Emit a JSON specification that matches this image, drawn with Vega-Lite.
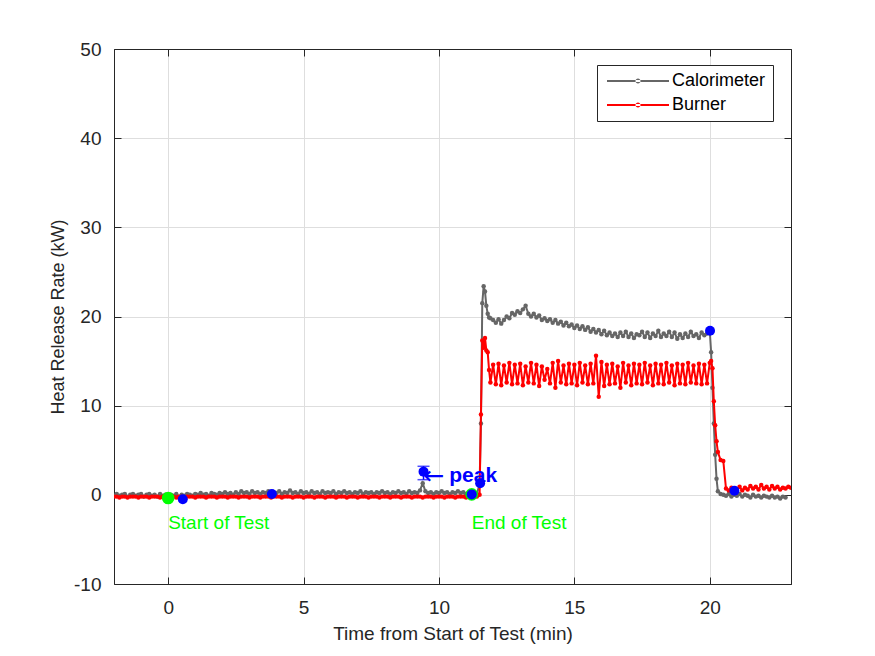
{
  "$schema": "https://vega.github.io/schema/vega-lite/v6.json",
  "width": 677,
  "height": 535,
  "autosize": {"type": "none"},
  "padding": {"left": 114, "top": 49, "right": 84, "bottom": 72},
  "background": "#FFFFFF",
  "config": {
    "font": "Liberation Sans",
    "view": {"stroke": "#262626", "strokeWidth": 1},
    "axis": {"labelFont": "Liberation Sans", "titleFont": "Liberation Sans", "labelColor": "#262626", "titleColor": "#262626", "domainColor": "#262626", "tickColor": "#262626", "gridColor": "#DEDEDE", "gridWidth": 1, "titleFontWeight": "normal"}
  },
  "datasets": {
    "hrr": [
      {"t":-2.0,"c":-0.1,"b":-0.2},{"t":-1.9,"c":0.1,"b":-0.2},{"t":-1.8,"c":-0.1,"b":-0.3},{"t":-1.7,"c":0.0,"b":-0.2},{"t":-1.6,"c":0.1,"b":-0.2},
      {"t":-1.5,"c":-0.2,"b":-0.3},{"t":-1.4,"c":0.0,"b":-0.2},{"t":-1.3,"c":0.1,"b":-0.2},{"t":-1.2,"c":-0.1,"b":-0.2},{"t":-1.1,"c":0.0,"b":-0.3},
      {"t":-1.0,"c":0.1,"b":-0.2},{"t":-0.9,"c":-0.2,"b":-0.2},{"t":-0.8,"c":0.0,"b":-0.2},{"t":-0.7,"c":0.1,"b":-0.3},{"t":-0.6,"c":-0.1,"b":-0.2},
      {"t":-0.5,"c":0.0,"b":-0.2},{"t":-0.4,"c":-0.2,"b":-0.2},{"t":-0.3,"c":0.1,"b":-0.3},{"t":-0.2,"c":-0.1,"b":-0.2},{"t":-0.1,"c":0.0,"b":-0.2},
      {"t":0.0,"c":-0.2,"b":-0.3},{"t":0.1,"c":0.0,"b":-0.2},{"t":0.2,"c":-0.1,"b":-0.2},{"t":0.3,"c":0.1,"b":-0.3},{"t":0.4,"c":-0.2,"b":-0.2},
      {"t":0.5,"c":0.0,"b":-0.2},{"t":0.6,"c":-0.1,"b":-0.3},{"t":0.7,"c":0.1,"b":-0.2},{"t":0.8,"c":0.0,"b":-0.2},{"t":0.9,"c":-0.1,"b":-0.2},
      {"t":1.0,"c":0.1,"b":-0.3},{"t":1.1,"c":0.0,"b":-0.2},{"t":1.2,"c":0.2,"b":-0.2},{"t":1.3,"c":0.0,"b":-0.2},{"t":1.4,"c":0.1,"b":-0.3},
      {"t":1.5,"c":-0.1,"b":-0.2},{"t":1.6,"c":0.2,"b":-0.2},{"t":1.7,"c":0.1,"b":-0.2},{"t":1.8,"c":0.0,"b":-0.3},{"t":1.9,"c":0.2,"b":-0.2},
      {"t":2.0,"c":0.1,"b":-0.2},{"t":2.1,"c":0.3,"b":-0.2},{"t":2.2,"c":0.1,"b":-0.3},{"t":2.3,"c":0.2,"b":-0.2},{"t":2.4,"c":0.0,"b":-0.2},
      {"t":2.5,"c":0.3,"b":-0.2},{"t":2.6,"c":0.1,"b":-0.3},{"t":2.7,"c":0.4,"b":-0.2},{"t":2.8,"c":0.2,"b":-0.2},{"t":2.9,"c":0.3,"b":-0.2},
      {"t":3.0,"c":0.1,"b":-0.3},{"t":3.1,"c":0.4,"b":-0.2},{"t":3.2,"c":0.2,"b":-0.2},{"t":3.3,"c":0.3,"b":-0.2},{"t":3.4,"c":0.1,"b":-0.3},
      {"t":3.5,"c":0.3,"b":-0.2},{"t":3.6,"c":0.2,"b":-0.2},{"t":3.7,"c":0.4,"b":-0.2},{"t":3.8,"c":0.1,"b":-0.3},{"t":3.9,"c":0.3,"b":-0.2},
      {"t":4.0,"c":0.2,"b":-0.2},{"t":4.1,"c":0.4,"b":-0.2},{"t":4.2,"c":0.1,"b":-0.3},{"t":4.3,"c":0.3,"b":-0.2},{"t":4.4,"c":0.2,"b":-0.2},
      {"t":4.5,"c":0.5,"b":-0.2},{"t":4.6,"c":0.2,"b":-0.3},{"t":4.7,"c":0.3,"b":-0.2},{"t":4.8,"c":0.1,"b":-0.2},{"t":4.9,"c":0.4,"b":-0.2},
      {"t":5.0,"c":0.2,"b":-0.3},{"t":5.1,"c":0.3,"b":-0.2},{"t":5.2,"c":0.1,"b":-0.2},{"t":5.3,"c":0.4,"b":-0.2},{"t":5.4,"c":0.2,"b":-0.3},
      {"t":5.5,"c":0.3,"b":-0.2},{"t":5.6,"c":0.1,"b":-0.2},{"t":5.7,"c":0.4,"b":-0.2},{"t":5.8,"c":0.2,"b":-0.3},{"t":5.9,"c":0.3,"b":-0.2},
      {"t":6.0,"c":0.2,"b":-0.2},{"t":6.1,"c":0.4,"b":-0.2},{"t":6.2,"c":0.1,"b":-0.3},{"t":6.3,"c":0.3,"b":-0.2},{"t":6.4,"c":0.2,"b":-0.2},
      {"t":6.5,"c":0.4,"b":-0.2},{"t":6.6,"c":0.2,"b":-0.3},{"t":6.7,"c":0.3,"b":-0.2},{"t":6.8,"c":0.1,"b":-0.2},{"t":6.9,"c":0.3,"b":-0.2},
      {"t":7.0,"c":0.2,"b":-0.3},{"t":7.1,"c":0.4,"b":-0.2},{"t":7.2,"c":0.1,"b":-0.2},{"t":7.3,"c":0.3,"b":-0.2},{"t":7.4,"c":0.2,"b":-0.3},
      {"t":7.5,"c":0.3,"b":-0.2},{"t":7.6,"c":0.1,"b":-0.2},{"t":7.7,"c":0.3,"b":-0.2},{"t":7.8,"c":0.2,"b":-0.3},{"t":7.9,"c":0.4,"b":-0.2},
      {"t":8.0,"c":0.2,"b":-0.2},{"t":8.1,"c":0.3,"b":-0.2},{"t":8.2,"c":0.1,"b":-0.3},{"t":8.3,"c":0.3,"b":-0.2},{"t":8.4,"c":0.2,"b":-0.2},
      {"t":8.5,"c":0.4,"b":-0.2},{"t":8.6,"c":0.2,"b":-0.3},{"t":8.7,"c":0.3,"b":-0.2},{"t":8.8,"c":0.1,"b":-0.2},{"t":8.9,"c":0.4,"b":-0.2},
      {"t":9.0,"c":0.2,"b":-0.3},{"t":9.1,"c":0.3,"b":-0.2},{"t":9.2,"c":0.2,"b":-0.2},{"t":9.3,"c":0.5,"b":-0.2},{"t":9.4,"c":1.3,"b":-0.3},
      {"t":9.5,"c":0.4,"b":-0.2},{"t":9.6,"c":0.2,"b":-0.2},{"t":9.7,"c":0.3,"b":-0.2},{"t":9.8,"c":0.1,"b":-0.3},{"t":9.9,"c":0.3,"b":-0.2},
      {"t":10.0,"c":0.2,"b":-0.2},{"t":10.1,"c":0.4,"b":-0.2},{"t":10.2,"c":0.2,"b":-0.3},{"t":10.3,"c":0.3,"b":-0.2},{"t":10.4,"c":0.1,"b":-0.2},
      {"t":10.5,"c":0.3,"b":-0.2},{"t":10.6,"c":0.2,"b":-0.3},{"t":10.7,"c":0.4,"b":-0.2},{"t":10.8,"c":0.2,"b":-0.2},{"t":10.9,"c":0.3,"b":-0.2},
      {"t":11.0,"c":0.1,"b":-0.3},{"t":11.1,"c":0.3,"b":-0.2},{"t":11.2,"c":0.0,"b":-0.2},{"t":11.3,"c":0.2,"b":-0.2},{"t":11.4,"c":0.1,"b":-0.2},
      {"t":11.5,"c":1.2,"b":0.0},{"t":11.55,"c":8.0,"b":9.0},{"t":11.6,"c":21.5,"b":17.3},{"t":11.65,"c":23.4,"b":16.5},{"t":11.7,"c":22.8,"b":17.6},
      {"t":11.75,"c":21.2,"b":16.2},{"t":11.8,"c":20.3,"b":16.0},{"t":11.85,"c":19.9,"b":14.0},{"t":11.9,"c":19.8,"b":12.6},
      {"t":12.0,"c":19.6,"b":14.6},{"t":12.1,"c":19.3,"b":12.4},{"t":12.2,"c":19.7,"b":14.7},{"t":12.3,"c":19.2,"b":12.3},{"t":12.4,"c":19.6,"b":14.5},
      {"t":12.5,"c":20.0,"b":12.6},{"t":12.6,"c":19.8,"b":14.8},{"t":12.7,"c":20.4,"b":12.4},{"t":12.8,"c":20.2,"b":14.6},{"t":12.9,"c":20.6,"b":12.5},
      {"t":13.0,"c":20.4,"b":14.7},{"t":13.1,"c":20.8,"b":12.3},{"t":13.2,"c":21.2,"b":14.4},{"t":13.3,"c":20.3,"b":12.6},{"t":13.4,"c":20.0,"b":14.8},
      {"t":13.5,"c":20.3,"b":12.5},{"t":13.6,"c":19.9,"b":14.6},{"t":13.7,"c":20.1,"b":12.2},{"t":13.8,"c":19.6,"b":14.4},{"t":13.9,"c":19.8,"b":12.9},
      {"t":14.0,"c":19.5,"b":14.1},{"t":14.1,"c":19.7,"b":12.5},{"t":14.2,"c":19.3,"b":14.8},{"t":14.3,"c":19.6,"b":12.0},{"t":14.4,"c":19.2,"b":15.0},
      {"t":14.5,"c":19.4,"b":12.6},{"t":14.6,"c":19.0,"b":14.5},{"t":14.7,"c":19.3,"b":12.4},{"t":14.8,"c":18.9,"b":14.7},{"t":14.9,"c":19.1,"b":12.5},
      {"t":15.0,"c":18.7,"b":14.6},{"t":15.1,"c":19.0,"b":12.3},{"t":15.2,"c":18.6,"b":14.8},{"t":15.3,"c":18.9,"b":12.6},{"t":15.4,"c":18.5,"b":14.5},
      {"t":15.5,"c":18.8,"b":12.4},{"t":15.6,"c":18.3,"b":14.7},{"t":15.7,"c":18.6,"b":12.5},{"t":15.8,"c":18.2,"b":15.6},{"t":15.9,"c":18.5,"b":11.0},
      {"t":16.0,"c":18.0,"b":14.9},{"t":16.1,"c":18.4,"b":12.2},{"t":16.2,"c":17.9,"b":14.6},{"t":16.3,"c":18.2,"b":12.4},{"t":16.4,"c":17.8,"b":14.7},
      {"t":16.5,"c":18.1,"b":12.5},{"t":16.6,"c":17.7,"b":14.4},{"t":16.7,"c":18.2,"b":12.0},{"t":16.8,"c":17.8,"b":14.8},{"t":16.9,"c":18.3,"b":12.6},
      {"t":17.0,"c":17.7,"b":14.5},{"t":17.1,"c":18.1,"b":12.3},{"t":17.2,"c":17.6,"b":14.7},{"t":17.3,"c":18.0,"b":12.5},{"t":17.4,"c":17.9,"b":14.6},
      {"t":17.5,"c":18.3,"b":12.4},{"t":17.6,"c":17.7,"b":14.8},{"t":17.7,"c":18.2,"b":12.6},{"t":17.8,"c":17.6,"b":14.5},{"t":17.9,"c":18.1,"b":12.3},
      {"t":18.0,"c":17.8,"b":14.7},{"t":18.1,"c":18.4,"b":12.5},{"t":18.2,"c":17.7,"b":14.6},{"t":18.3,"c":18.1,"b":12.4},{"t":18.4,"c":17.8,"b":14.8},
      {"t":18.5,"c":18.3,"b":12.6},{"t":18.6,"c":17.7,"b":14.5},{"t":18.7,"c":18.2,"b":12.3},{"t":18.8,"c":17.5,"b":14.7},{"t":18.9,"c":18.0,"b":12.5},
      {"t":19.0,"c":17.6,"b":14.6},{"t":19.1,"c":18.1,"b":12.4},{"t":19.2,"c":17.7,"b":14.8},{"t":19.3,"c":18.3,"b":12.6},{"t":19.4,"c":17.8,"b":14.5},
      {"t":19.5,"c":18.0,"b":12.5},{"t":19.6,"c":17.6,"b":14.7},{"t":19.7,"c":18.2,"b":12.4},{"t":19.8,"c":17.9,"b":14.6},{"t":19.9,"c":18.1,"b":12.5},
      {"t":20.0,"c":18.4,"b":14.8},{"t":20.05,"c":16.0,"b":15.0},{"t":20.1,"c":12.0,"b":14.2},{"t":20.15,"c":8.0,"b":10.5},{"t":20.2,"c":4.5,"b":7.8},
      {"t":20.25,"c":1.8,"b":6.0},{"t":20.3,"c":0.4,"b":4.8},{"t":20.4,"c":0.1,"b":3.9},{"t":20.5,"c":0.0,"b":3.8},
      {"t":20.6,"c":-0.1,"b":0.7},{"t":20.7,"c":0.1,"b":0.5},{"t":20.8,"c":-0.2,"b":0.8},{"t":20.9,"c":0.0,"b":0.4},{"t":21.0,"c":-0.1,"b":0.6},
      {"t":21.1,"c":0.1,"b":0.9},{"t":21.2,"c":-0.2,"b":0.5},{"t":21.3,"c":0.0,"b":0.8},{"t":21.4,"c":-0.1,"b":0.6},{"t":21.5,"c":-0.3,"b":1.0},
      {"t":21.6,"c":0.0,"b":0.7},{"t":21.7,"c":-0.2,"b":0.9},{"t":21.8,"c":-0.1,"b":0.6},{"t":21.9,"c":-0.3,"b":1.1},{"t":22.0,"c":-0.1,"b":0.7},
      {"t":22.1,"c":-0.2,"b":0.9},{"t":22.2,"c":-0.3,"b":0.6},{"t":22.3,"c":-0.1,"b":1.0},{"t":22.4,"c":-0.3,"b":0.7},{"t":22.5,"c":-0.2,"b":0.9},
      {"t":22.6,"c":-0.4,"b":0.6},{"t":22.7,"c":-0.2,"b":0.8},{"t":22.8,"c":-0.3,"b":0.7},{"t":22.9,"c":null,"b":0.9},{"t":23.0,"c":null,"b":0.8}
    ],
    "events": [
      {"t":0.0,"y":-0.35,"label":"Start of Test"},
      {"t":11.21,"y":0.05,"label":"End of Test"}
    ],
    "picks": [
      {"t":0.54,"y":-0.5},{"t":3.83,"y":0.1},{"t":11.21,"y":0.05},{"t":11.52,"y":1.3},
      {"t":20.01,"y":18.4},{"t":20.91,"y":0.45},{"t":9.43,"y":2.6}
    ],
    "peak": [
      {"t":9.43,"y":2.6,"lo":1.7,"hi":3.2,"ty":2.13,"tx":10.38,"label":"peak","arrow":"←"}
    ]
  },
  "layer": [
    {
      "data": {"name": "hrr"},
      "mark": {"type": "line", "strokeWidth": 2, "clip": true, "point": {"filled": true, "size": 20}},
      "encoding": {
        "x": {"field": "t", "type": "quantitative", "scale": {"domain": [-2, 23], "nice": false, "zero": false},
          "axis": {"orient": "bottom", "title": "Time from Start of Test (min)", "values": [0, 5, 10, 15, 20], "grid": true,
            "tickSize": -7, "labelPadding": 21, "labelFontSize": 19, "titleFontSize": 19, "titleX": 338.5, "titleY": 55, "titleBaseline": "alphabetic", "domain": true,
            "labelExpr": "toString(datum.value)"}},
        "y": {"field": "c", "type": "quantitative", "scale": {"domain": [-10, 50], "nice": false, "zero": false},
          "axis": {"orient": "left", "title": "Heat Release Rate (kW)", "values": [-10, 0, 10, 20, 30, 40, 50], "grid": true,
            "tickSize": -7, "labelPadding": 20, "labelFontSize": 19, "titleFontSize": 18, "titleX": -56, "titleY": 267.5, "titleAngle": -90, "titleBaseline": "middle", "titleAlign": "center", "domain": true,
            "labelExpr": "toString(datum.value)"}},
        "color": {"datum": "Calorimeter", "type": "nominal",
          "scale": {"domain": ["Calorimeter", "Burner"], "range": ["#666666", "#FF0000"]},
          "legend": {"title": null, "orient": "none", "legendX": 483, "legendY": 16, "direction": "vertical",
            "strokeColor": "#262626", "fillColor": "#FFFFFF", "padding": 7, "cornerRadius": 0,
            "symbolType": "M-1.2,-0.2H11.2V0.2H-1.2ZM4.5,0A0.5,0.5,0,1,0,5.5,0A0.5,0.5,0,1,0,4.5,0Z",
            "symbolSize": 100, "symbolStrokeWidth": 0, "labelOffset": 50, "labelFontSize": 18, "labelColor": "#000000",
            "labelFont": "Liberation Sans", "rowPadding": 6,
            "encode": {"symbols": {"update": {"fill": {"scale": "color", "field": "value"}, "opacity": {"value": 1}}}}}}
      }
    },
    {
      "data": {"name": "hrr"},
      "mark": {"type": "line", "strokeWidth": 2, "clip": true, "point": {"filled": true, "size": 20}},
      "encoding": {
        "x": {"field": "t", "type": "quantitative", "axis": null},
        "y": {"field": "b", "type": "quantitative", "axis": null},
        "color": {"datum": "Burner", "type": "nominal"}
      }
    },
    {
      "data": {"name": "events"},
      "mark": {"type": "point", "filled": true, "size": 160, "color": "#00FF00", "opacity": 1},
      "encoding": {
        "x": {"field": "t", "type": "quantitative",
          "axis": {"orient": "top", "labels": false, "title": null, "grid": false, "tickSize": -7, "values": [0, 5, 10, 15, 20], "domain": true}},
        "y": {"field": "y", "type": "quantitative",
          "axis": {"orient": "right", "labels": false, "title": null, "grid": false, "tickSize": -7, "values": [-10, 0, 10, 20, 30, 40, 50], "domain": true}}
      }
    },
    {
      "data": {"name": "picks"},
      "mark": {"type": "point", "filled": true, "size": 100, "color": "#0000FF", "opacity": 1},
      "encoding": {
        "x": {"field": "t", "type": "quantitative", "axis": null},
        "y": {"field": "y", "type": "quantitative", "axis": null}
      }
    },
    {
      "data": {"name": "peak"},
      "mark": {"type": "errorbar", "ticks": {"size": 12}, "thickness": 1.5, "color": "#0000FF"},
      "encoding": {
        "x": {"field": "t", "type": "quantitative", "axis": null},
        "y": {"field": "lo", "type": "quantitative", "axis": null},
        "y2": {"field": "hi"}
      }
    },
    {
      "data": {"name": "events"},
      "mark": {"type": "text", "align": "left", "baseline": "middle", "fontSize": 19, "color": "#00FF00", "font": "Liberation Sans"},
      "encoding": {
        "x": {"field": "t", "type": "quantitative", "axis": null},
        "y": {"datum": -3.2, "type": "quantitative", "axis": null},
        "text": {"field": "label"}
      }
    },
    {
      "data": {"name": "peak"},
      "mark": {"type": "text", "align": "left", "baseline": "middle", "fontSize": 25, "color": "#0000FF", "font": "DejaVu Sans"},
      "encoding": {
        "x": {"field": "t", "type": "quantitative", "axis": null},
        "y": {"field": "ty", "type": "quantitative", "axis": null},
        "text": {"field": "arrow"}
      }
    },
    {
      "data": {"name": "peak"},
      "mark": {"type": "text", "align": "left", "baseline": "middle", "fontSize": 21, "fontWeight": "bold", "color": "#0000FF", "font": "Liberation Sans"},
      "encoding": {
        "x": {"field": "tx", "type": "quantitative", "axis": null},
        "y": {"field": "ty", "type": "quantitative", "axis": null},
        "text": {"field": "label"}
      }
    }
  ]
}
